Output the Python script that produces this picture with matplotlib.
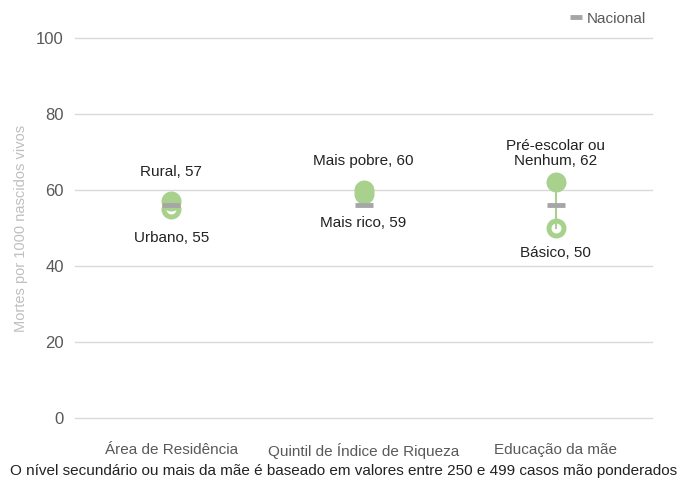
import matplotlib
matplotlib.use("Agg")
import matplotlib.pyplot as plt

plt.rcParams["font.family"] = ["Liberation Sans", "DejaVu Sans"]

# ====================================

categories = ["Área de Residência", "Quintil de Índice de Riqueza", "Educação da mãe"]
high_vals = [57, 60, 62]
high_labels = ["Rural, 57", "Mais pobre, 60", "Pré-escolar ou\nNenhum, 62"]
low_vals = [55, 59, 50]
low_labels = ["Urbano, 55", "Mais rico, 59", "Básico, 50"]
national = [56, 56, 56]

green = "#a9d18e"
gray = "#a6a6a6"

# ====================================

fig = plt.figure(figsize=(6.88, 4.78), dpi=100)
ax = fig.add_axes([75/688, 60/478, 577/688, 380/478])

xs = [i + 0.5 for i in range(len(categories))]

ax.plot(xs, low_vals, "o", ls="none", ms=10.8, mfc="white", mec=green,
        mew=3.6, zorder=2)
for x, hi, lo in zip(xs, high_vals, low_vals):
    ax.plot([x, x], [lo, hi], color=green, lw=1.5, zorder=3)
ax.plot(xs, high_vals, "o", ls="none", ms=14.4, mfc=green, mec=green,
        mew=0, zorder=4)
ax.plot(xs, national, "_", ls="none", ms=13, mew=3.5, color=gray,
        zorder=5, label="Nacional")

for x, v, t in zip(xs, high_vals, high_labels):
    ax.annotate(t, (x, v), xytext=(0, 29), textcoords="offset pixels",
                ha="center", va="center", fontsize=11, color="#222222",
                linespacing=1.1)
for x, v, t in zip(xs, low_vals, low_labels):
    off = -25 if v < 52 else -29
    ax.annotate(t, (x, v), xytext=(0, off), textcoords="offset pixels",
                ha="center", va="center", fontsize=11, color="#222222")

ax.set_xlim(0, 3)
ax.set_ylim(0, 100)
ax.set_yticks(range(0, 101, 20))
ax.set_xticks(xs)
ax.set_xticklabels(categories)
ax.tick_params(axis="x", length=0, pad=18, labelsize=11, labelcolor="#595959")
ax.tick_params(axis="y", length=0, pad=8, labelsize=12, labelcolor="#595959")
ax.grid(axis="y", color="#d9d9d9", lw=1)
for gl in ax.get_ygridlines():
    gl.set_clip_on(False)
ax.set_axisbelow(True)
for s in ax.spines.values():
    s.set_visible(False)

ax.set_ylabel("Mortes por 1000 nascidos vivos", color="#bfbfbf", fontsize=10.5,
              labelpad=6)

ax.legend(loc="upper right", bbox_to_anchor=(1.0, 1.085), frameon=False,
          fontsize=11, handlelength=0.8, handletextpad=0.3, borderaxespad=0,
          markerscale=0.7, labelcolor="#595959")

fig.text(0.5, 7/478, "O nível secundário ou mais da mãe é baseado em valores entre 250 e 499 casos mão ponderados",
         ha="center", va="center", fontsize=11, color="#222222")

fig.savefig("out.png", dpi=100)
